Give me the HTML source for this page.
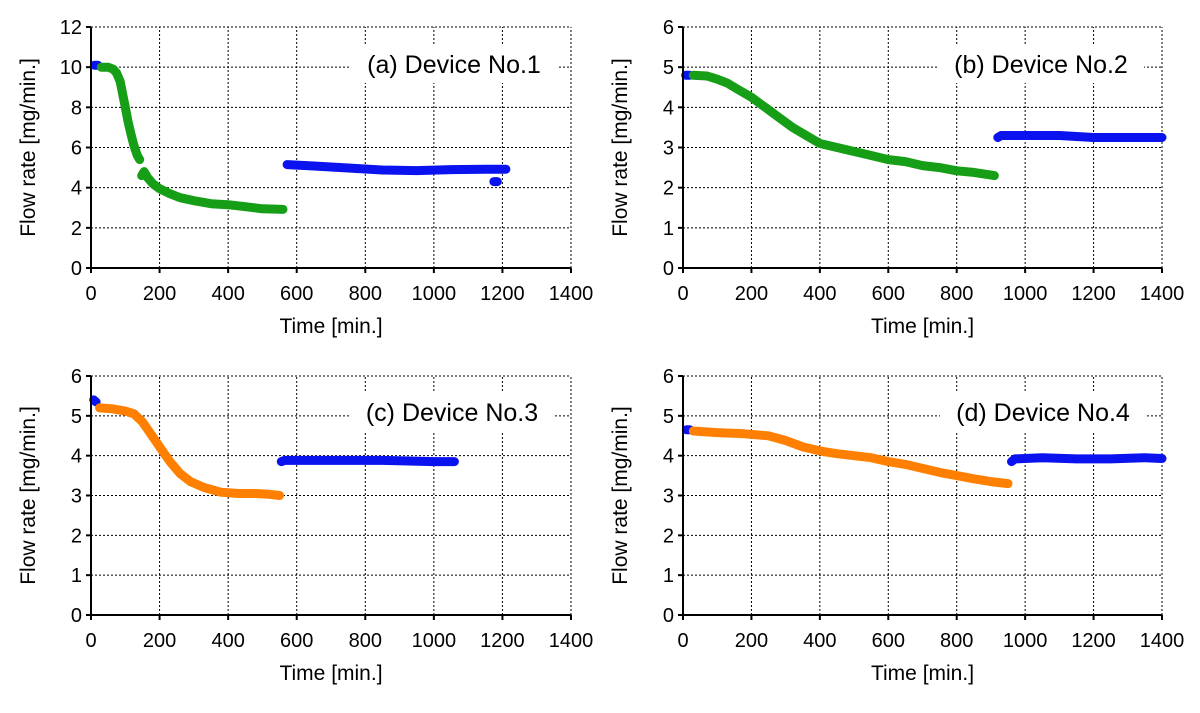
<!DOCTYPE html>
<html><head><meta charset="utf-8"><style>
html,body{margin:0;padding:0;background:#fff;}
svg{display:block;font-family:"Liberation Sans",sans-serif;}
</style></head><body>
<svg id="fig" width="1200" height="713" viewBox="0 0 1200 713" xmlns="http://www.w3.org/2000/svg"></svg>
<script>
// ---- Data (time in min, flow rate in mg/min) ----
const xTicks = [0,200,400,600,800,1000,1200,1400];
const yTicksA = [0,2,4,6,8,10,12];
const yTicks6 = [0,1,2,3,4,5,6];

const aBlue1T = [10,20];           const aBlue1V = [10.1,10.1];
const aGreen1T = [30,50,65,75,85,92,100,108,116,125,135,142];
const aGreen1V = [10.0,10.0,9.9,9.7,9.3,8.7,8.0,7.3,6.7,6.1,5.6,5.4];
const aGreen2T = [148,155,165,180,200,230,260,300,350,400,450,500,560];
const aGreen2V = [4.6,4.8,4.5,4.2,3.95,3.7,3.5,3.35,3.2,3.15,3.05,2.95,2.92];
const aBlue2T = [572,650,750,850,950,1050,1150,1210];
const aBlue2V = [5.15,5.08,4.98,4.88,4.85,4.9,4.92,4.92];
const aOutT = [1175,1185];         const aOutV = [4.3,4.3];

const bBlue1T = [8,20];            const bBlue1V = [4.8,4.8];
const bGreenT = [30,70,100,130,160,200,240,280,320,360,400,450,500,550,600,650,700,750,800,850,910];
const bGreenV = [4.8,4.78,4.7,4.6,4.45,4.25,4.0,3.75,3.5,3.3,3.1,3.0,2.9,2.8,2.7,2.65,2.55,2.5,2.42,2.38,2.3];
const bBlue2T = [920,930,1000,1100,1200,1300,1400];
const bBlue2V = [3.25,3.3,3.3,3.3,3.25,3.25,3.25];

const cBlue1T = [8,15];            const cBlue1V = [5.4,5.35];
const cOrangeT = [25,60,100,125,150,170,190,210,230,260,290,330,380,430,480,520,550];
const cOrangeV = [5.2,5.18,5.12,5.05,4.85,4.6,4.35,4.1,3.85,3.55,3.35,3.2,3.08,3.05,3.05,3.03,3.0];
const cBlue2T = [555,565,700,850,1000,1060];
const cBlue2V = [3.85,3.88,3.88,3.88,3.85,3.85];

const dBlue1T = [10,20];           const dBlue1V = [4.65,4.65];
const dOrangeT = [30,100,180,250,300,350,400,450,500,550,600,650,700,750,800,850,900,950];
const dOrangeV = [4.62,4.58,4.55,4.5,4.38,4.22,4.12,4.05,4.0,3.95,3.85,3.78,3.68,3.58,3.5,3.42,3.35,3.3];
const dBlue2T = [960,970,1050,1150,1250,1350,1400];
const dBlue2V = [3.85,3.92,3.95,3.92,3.92,3.95,3.93];

const BLUE="#0a12f0", GREEN="#169e16", ORANGE="#ff8000";
const NS="http://www.w3.org/2000/svg";
const svg=document.getElementById('fig');
function mk(tag,attrs,parent){const e=document.createElementNS(NS,tag);for(const k in attrs)e.setAttribute(k,attrs[k]);(parent||svg).appendChild(e);return e;}

const panels=[
 {id:'a',x0:91,x1:571,y0:268,y1:27,ymax:12,yt:yTicksA,title:'(a) Device No.1',tx:454,ty:64,
  series:[[aBlue1T,aBlue1V,BLUE],[aGreen1T,aGreen1V,GREEN],[aGreen2T,aGreen2V,GREEN],[aBlue2T,aBlue2V,BLUE],[aOutT,aOutV,BLUE]]},
 {id:'b',x0:683,x1:1162,y0:268,y1:27,ymax:6,yt:yTicks6,title:'(b) Device No.2',tx:1041,ty:64,
  series:[[bBlue1T,bBlue1V,BLUE],[bGreenT,bGreenV,GREEN],[bBlue2T,bBlue2V,BLUE]]},
 {id:'c',x0:91,x1:571,y0:615,y1:376,ymax:6,yt:yTicks6,title:'(c) Device No.3',tx:452,ty:412,
  series:[[cBlue1T,cBlue1V,BLUE],[cOrangeT,cOrangeV,ORANGE],[cBlue2T,cBlue2V,BLUE]]},
 {id:'d',x0:683,x1:1162,y0:615,y1:376,ymax:6,yt:yTicks6,title:'(d) Device No.4',tx:1043,ty:412,
  series:[[dBlue1T,dBlue1V,BLUE],[dOrangeT,dOrangeV,ORANGE],[dBlue2T,dBlue2V,BLUE]]}
];

panels.forEach(p=>{
 const g=mk('g',{});
 
 
 const X=t=>p.x0+(t/1400)*(p.x1-p.x0);
 const Y=v=>p.y0-(v/p.ymax)*(p.y0-p.y1);
 xTicks.forEach(t=>{ if(t===0)return;
  const l=mk('line',{x1:X(t),x2:X(t),y1:p.y0,y2:p.y1,stroke:'#000','stroke-width':1,'stroke-dasharray':'2,2'},g);
  
  
 });
 p.yt.forEach(v=>{ if(v===0)return;
  const l=mk('line',{x1:p.x0,x2:p.x1,y1:Y(v),y2:Y(v),stroke:'#000','stroke-width':1,'stroke-dasharray':'2,2'},g);
  
  
 });
 const tw=190;
 const r=mk('rect',{x:p.tx-tw/2-8,y:p.ty-19,width:tw+16,height:38,fill:'#fff'},g);
 
 
 const tt=mk('text',{x:p.tx,y:p.ty+9,'font-size':25,'text-anchor':'middle',fill:'#000'},g);
 tt.textContent=p.title;
 
 
 p.series.forEach(s=>{
  const pts=s[0].map((t,i)=>X(t).toFixed(1)+','+Y(s[1][i]).toFixed(1)).join(' ');
  const pl=mk('polyline',{points:pts,fill:'none',stroke:s[2],'stroke-width':9,'stroke-linecap':'round','stroke-linejoin':'round'},g);
  
  
 });
 const ax=mk('line',{x1:p.x0,x2:p.x1,y1:p.y0,y2:p.y0,stroke:'#000','stroke-width':2},g);
 
 
 const ay=mk('line',{x1:p.x0,x2:p.x0,y1:p.y0,y2:p.y1,stroke:'#000','stroke-width':2},g);
 
 
 xTicks.forEach(t=>{
  const tk=mk('line',{x1:X(t),x2:X(t),y1:p.y0,y2:p.y0+5,stroke:'#000','stroke-width':2},g);
  
  
  const lb=mk('text',{x:X(t),y:p.y0+32,'font-size':20,'text-anchor':'middle',fill:'#000'},g);
  lb.textContent=t;
  
  
 });
 p.yt.forEach(v=>{
  const tk=mk('line',{x1:p.x0-5,x2:p.x0,y1:Y(v),y2:Y(v),stroke:'#000','stroke-width':2},g);
  
  
  const lb=mk('text',{x:p.x0-9,y:Y(v)+7,'font-size':20,'text-anchor':'end',fill:'#000'},g);
  lb.textContent=v;
  
  
 });
 const xt=mk('text',{x:(p.x0+p.x1)/2,y:p.y0+65,'font-size':21,'text-anchor':'middle',fill:'#000'},g);
 xt.textContent='Time [min.]';
 
 
 const cy=(p.y0+p.y1)/2, cx=p.x0-56;
 const yt=mk('text',{x:cx,y:cy,'font-size':21,'text-anchor':'middle',fill:'#000',transform:'rotate(-90 '+cx+' '+cy+')'},g);
 yt.textContent='Flow rate [mg/min.]';
 
 
});
</script>
</body></html>
